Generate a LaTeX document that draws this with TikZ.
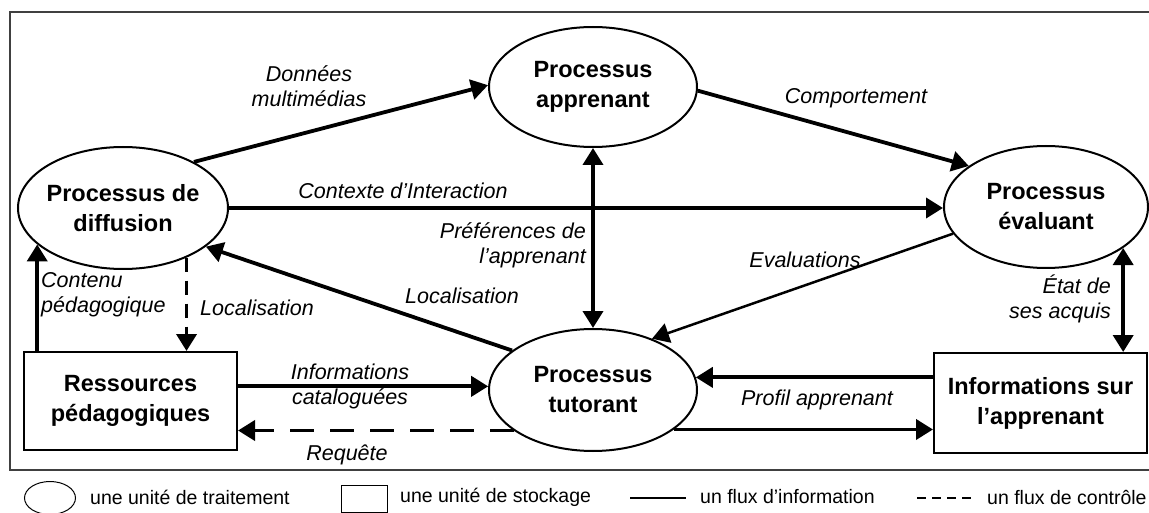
\documentclass[tikz,border=0pt]{standalone}
\usepackage{fontspec}
\setmainfont{Liberation Sans}
\usetikzlibrary{shapes.geometric,arrows.meta,calc}
\begin{document}
\begin{tikzpicture}[x=1pt,y=-1pt,
  >={Triangle[length=17pt,width=20pt]},
  proc/.style={ellipse,draw,line width=2pt,inner ysep=0pt,inner xsep=-8pt,align=center,font=\bfseries\fontsize{23.5}{30}\selectfont},
  store/.style={rectangle,draw,line width=2pt,inner sep=0pt,align=center,font=\bfseries\fontsize{23.5}{30}\selectfont},
  flow/.style={line width=3.8pt,->},
  thinflow/.style={line width=2.5pt,->},
  ctrlh/.style={flow,dash pattern=on 24pt off 16pt},
  ctrlv/.style={flow,dash pattern=on 14pt off 9pt},
  lbl/.style={font=\itshape\fontsize{21.5}{25}\selectfont,inner sep=0pt},
  leg/.style={font=\fontsize{19.5}{24}\selectfont,inner sep=0pt,anchor=west}]
\useasboundingbox (0,0) rectangle (1149,513);
\draw[line width=1.3pt,black!75] (1152,12) -- (10,12) -- (10,470) -- (1152,470);

\node[proc,minimum width=210pt,minimum height=122pt] (diff) at (123,208) {Processus de\\diffusion};
\node[proc,minimum width=208pt,minimum height=120pt] (appr) at (593,87) {Processus\\apprenant};
\node[proc,minimum width=204pt,minimum height=122pt] (eval) at (1046,207) {Processus\\évaluant};
\node[proc,minimum width=208pt,minimum height=122pt] (tut) at (593,390) {Processus\\tutorant};
\node[store,minimum width=213pt,minimum height=98pt] (res) at (130.5,401) {Ressources\\pédagogiques};
\node[store,minimum width=213pt,minimum height=100pt] (info) at (1040.5,403) {Informations sur\\l’apprenant};

\draw[flow] (diff.33) -- (appr.179);
\draw[flow] (appr.-2) -- (eval.152);
\draw[flow] (diff.east) -- (diff.east -| eval.west);
\draw[flow,<->] (appr.south) -- (tut.north);
\draw[thinflow] (eval.196) -- (tut.41);
\draw[flow] (tut.154) -- (diff.-25);
\draw[flow] (diff.203 |- res.north) -- (diff.203);
\draw[ctrlv] (diff.-38) -- (diff.-38 |- res.north);
\draw[flow] (tut.178 -| res.east) -- (tut.178);
\draw[ctrlh] (tut.207) -- (tut.207 -| res.east);
\draw[flow] (tut.7 -| info.west) -- (tut.7);
\draw[flow] (tut.-26) -- (tut.-26 -| info.west);
\draw[flow,<->] (eval.-28) -- (eval.-28 |- info.north);

\node[lbl,align=center] (lDon) at (309,86) {Données\\multimédias};
\node[lbl] (lCom) at (856,98) {Comportement};
\node[lbl] (lCtx) at (403,191) {Contexte d’Interaction};
\node[lbl,align=right,anchor=east] (lPref) at (586,245) {Préférences de\\l’apprenant};
\node[lbl] (lEva) at (805,260) {Evaluations};
\node[lbl] (lLoc1) at (462,296) {Localisation};
\node[lbl,align=left,anchor=west] (lCont) at (41,295) {Contenu\\pédagogique};
\node[lbl] (lLoc2) at (257,308) {Localisation};
\node[lbl,align=center] (lInf) at (350,386) {Informations\\cataloguées};
\node[lbl] (lReq) at (347,455) {Requête};
\node[lbl] (lProf) at (817,400) {Profil apprenant};
\node[lbl,align=right,anchor=east] (lEtat) at (1111,299) {État de\\ses acquis};

\draw[line width=1pt] (50,498) ellipse [x radius=25.5,y radius=16.5];
\node[leg] (l1) at (90,497) {une unité de traitement};
\draw[line width=1pt] (341,485) rectangle (387,512);
\node[leg] (l2) at (400,497) {une unité de stockage};
\coordinate (s1) at (630,498);
\coordinate (s2) at (686,498);
\draw[line width=2.5pt] (s1) -- (s2);
\node[leg] (l3) at (700,497) {un flux d’information};
\coordinate (d1) at (917,498);
\coordinate (d2) at (975,498);
\draw[line width=2.5pt,dash pattern=on 9pt off 6pt] (d1) -- (d2);
\node[leg] (l4) at (987,497) {un flux de contrôle};
\end{tikzpicture}
\end{document}
